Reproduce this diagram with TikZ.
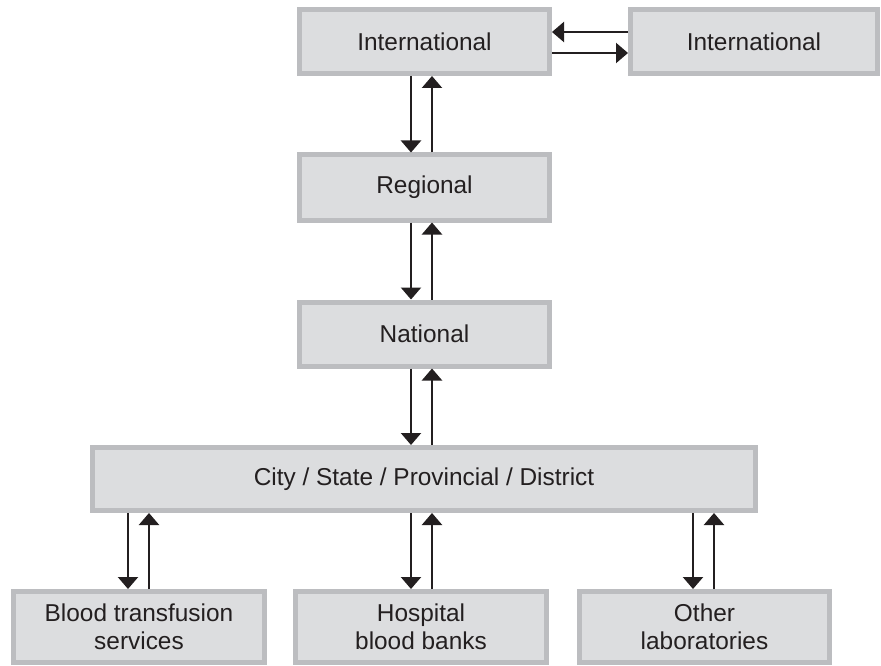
\documentclass[tikz,border=0pt]{standalone}
\usepackage{fontspec}
\setmainfont{Liberation Sans}
\usetikzlibrary{arrows.meta}
\definecolor{boxfill}{HTML}{DCDDDF}
\definecolor{boxline}{HTML}{BCBDC0}
\definecolor{ink}{HTML}{231F20}
\tikzset{
  lvlbox/.style={draw=boxline, fill=boxfill, line width=5bp, text=ink,
    font=\fontsize{24.5}{28}\selectfont, align=center, inner sep=0pt},
  flow/.style={draw=ink, line width=2.3bp, -{Triangle[width=20bp 0,length=12bp 0]}}
}
\begin{document}
\begin{tikzpicture}[x=1bp,y=-1bp]
\useasboundingbox (0,0) rectangle (881,666);
% outer sizes minus line width 5
\node[lvlbox, minimum width=250bp, minimum height=64bp] (intl) at (424.5,41.5) {International};
\node[lvlbox, minimum width=247bp, minimum height=64bp] (intlb) at (754,41.5) {International};
\node[lvlbox, minimum width=250bp, minimum height=65bp] (reg) at (424.5,187.5) {Regional};
\node[lvlbox, minimum width=250bp, minimum height=64bp] (nat) at (424.5,334) {National};
\node[lvlbox, minimum width=663bp, minimum height=63bp] (city) at (424,479) {City / State / Provincial / District};
\node[lvlbox, minimum width=251bp, minimum height=71bp] (blood) at (139,627) {Blood transfusion\\services};
\node[lvlbox, minimum width=251bp, minimum height=71bp] (hosp) at (421,627) {Hospital\\blood banks};
\node[lvlbox, minimum width=250bp, minimum height=71bp] (other) at (704.5,627) {Other\\laboratories};
% column coordinates
\coordinate (cd) at (411,0);
\coordinate (cu) at (432,0);
\coordinate (bd) at (128,0);
\coordinate (bu) at (149,0);
\coordinate (od) at (693,0);
\coordinate (ou) at (714,0);
\coordinate (hl) at (0,32);
\coordinate (hr) at (0,53);
% horizontal
\draw[flow] (intlb.west |- hl) -- (intl.east |- hl);
\draw[flow] (intl.east |- hr) -- (intlb.west |- hr);
% vertical
\draw[flow] (intl.south -| cd) -- (reg.north -| cd);
\draw[flow] (reg.north -| cu) -- (intl.south -| cu);
\draw[flow] (reg.south -| cd) -- (nat.north -| cd);
\draw[flow] (nat.north -| cu) -- (reg.south -| cu);
\draw[flow] (nat.south -| cd) -- (city.north -| cd);
\draw[flow] (city.north -| cu) -- (nat.south -| cu);
\draw[flow] (city.south -| bd) -- (blood.north -| bd);
\draw[flow] (blood.north -| bu) -- (city.south -| bu);
\draw[flow] (city.south -| cd) -- (hosp.north -| cd);
\draw[flow] (hosp.north -| cu) -- (city.south -| cu);
\draw[flow] (city.south -| od) -- (other.north -| od);
\draw[flow] (other.north -| ou) -- (city.south -| ou);
\end{tikzpicture}
\end{document}
